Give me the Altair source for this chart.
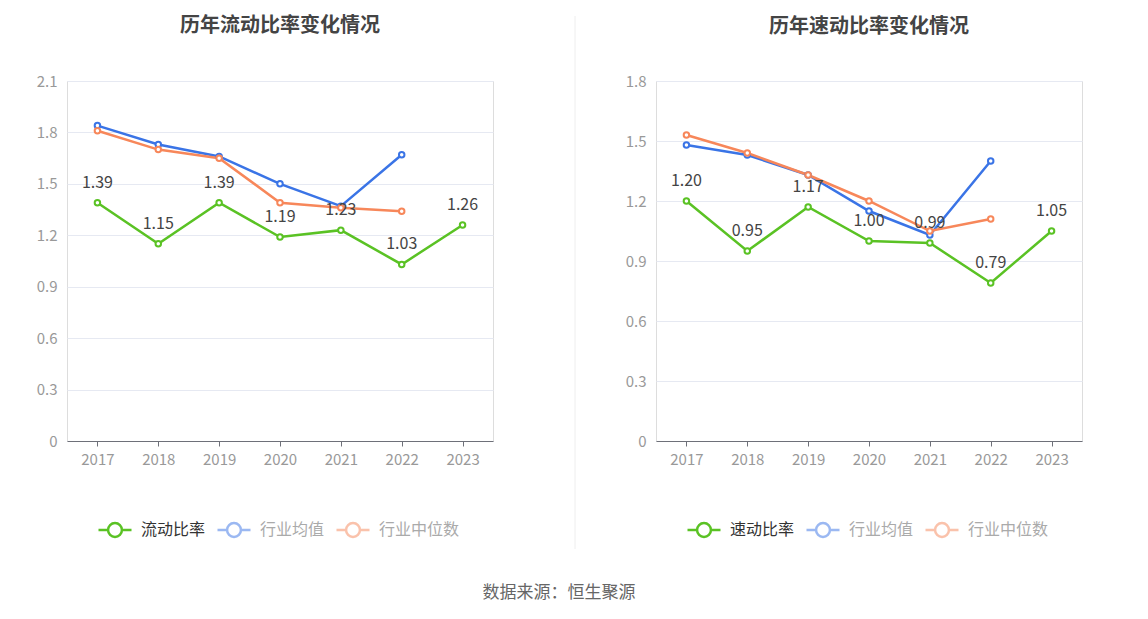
import altair as alt
import pandas as pd

years = ["2017", "2018", "2019", "2020", "2021", "2022", "2023"]

cur_ratio = [1.39, 1.15, 1.39, 1.19, 1.23, 1.03, 1.26]
cur_avg = [1.84, 1.73, 1.66, 1.50, 1.37, 1.67, None]
cur_med = [1.81, 1.70, 1.65, 1.39, 1.36, 1.34, None]

quick_ratio = [1.20, 0.95, 1.17, 1.00, 0.99, 0.79, 1.05]
quick_avg = [1.48, 1.43, 1.33, 1.15, 1.03, 1.40, None]
quick_med = [1.53, 1.44, 1.33, 1.20, 1.05, 1.11, None]

cur_ticks = [0, 0.3, 0.6, 0.9, 1.2, 1.5, 1.8, 2.1]
quick_ticks = [0, 0.3, 0.6, 0.9, 1.2, 1.5, 1.8]

GREEN = "#5ac224"
BLUE = "#3a74e6"
ORANGE = "#f7875a"

FONT = "Noto Sans CJK SC"


def panel(title, main_name, main, avg, med, ticks, divider, title_offset):
    names = [main_name, "行业均值", "行业中位数"]
    rows = []
    for name, vals in zip(names, [main, avg, med]):
        for y, v in zip(years, vals):
            if v is not None:
                rows.append({"year": y, "series": name, "value": v})
    df = pd.DataFrame(rows)
    main_df = df[df.series == main_name]

    x = alt.X("year:O", scale=alt.Scale(type="point", padding=0.5),
              axis=alt.Axis(title=None, labelAngle=0, labelColor="#999999",
                            labelFontSize=15, labelPadding=6, domainColor="#6e7079",
                            tickColor="#6e7079", tickSize=5, grid=False, labelFont=FONT))
    y = alt.Y("value:Q", scale=alt.Scale(domain=[ticks[0], ticks[-1]], nice=False),
              axis=alt.Axis(title=None, values=ticks, format=".1~f", labelColor="#999999",
                            labelFontSize=15, labelPadding=10, domain=False, ticks=False,
                            gridColor="#e6e9f2", gridWidth=1, labelFont=FONT))
    color = alt.Color(
        "series:N",
        scale=alt.Scale(domain=names, range=[GREEN, BLUE, ORANGE]),
        sort=names,
        legend=alt.Legend(
            title=None, orient="none", legendX=30, legendY=431, direction="horizontal",
            labelFontSize=16, labelFont=FONT,
            labelColor={"expr": f"datum.value == '{main_name}' ? '#333333' : '#aaaaaa'"},
            symbolOpacity={"expr": f"datum.value == '{main_name}' ? 1 : 0.5"},
            symbolType="M-1,0L-0.42,0M0.42,0L1,0M-0.42,0A0.42,0.42,0,1,0,0.42,0A0.42,0.42,0,1,0,-0.42,0Z",
            symbolSize=1089, symbolStrokeWidth=2.5, symbolFillColor="white",
            columnPadding=6, labelOffset=8,
        ),
    )
    lines = alt.Chart(df).mark_line(
        strokeWidth=2.5,
        point=alt.OverlayMarkDef(filled=False, fill="white", size=30, strokeWidth=2, opacity=1),
    ).encode(x=x, y=y, color=color, order=alt.Order("year:O"))
    labels = alt.Chart(main_df).mark_text(
        dy=-20, fontSize=16, color="#444444", font=FONT
    ).encode(x=x, y=y, text=alt.Text("value:Q", format=".2f"))
    layers = [lines, labels]
    if divider:
        sep = alt.Chart(pd.DataFrame({"d": [0]})).mark_rule(
            color="#eeeeee", strokeWidth=1
        ).encode(x=alt.value(508), y=alt.value(-65), y2=alt.value(468))
        layers.append(sep)
    return alt.layer(*layers).properties(
        width=426, height=360,
        title=alt.TitleParams(title, fontSize=20, fontWeight="bold", color="#444444",
                              font=FONT, anchor="middle", offset=title_offset),
    )


left = panel("历年流动比率变化情况", "流动比率", cur_ratio, cur_avg, cur_med, cur_ticks, True, -20)
right = panel("历年速动比率变化情况", "速动比率", quick_ratio, quick_avg, quick_med, quick_ticks, False, 37.5)

chart = alt.hconcat(left, right, spacing=48).resolve_scale(
    color="independent"
).resolve_legend(color="independent").properties(
    title=alt.TitleParams("数据来源：恒生聚源", orient="bottom", anchor="middle",
                          fontSize=17, fontWeight="normal", color="#666666", font=FONT,
                          offset=35),
    padding={"left": 27, "top": 7, "right": 5, "bottom": 5},
).configure_view(stroke=None).configure(background="white")

chart.save("out.html", embed_options={"renderer": "svg", "actions": False})
